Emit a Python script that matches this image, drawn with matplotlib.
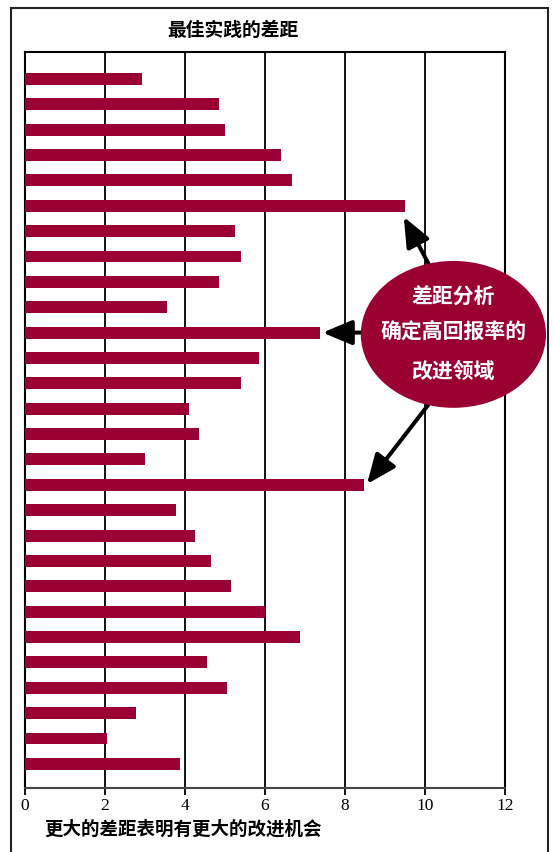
import matplotlib
matplotlib.use("Agg")
import matplotlib.pyplot as plt
from matplotlib.patches import Ellipse, Rectangle, FancyArrowPatch

# Data (top to bottom)
gaps = [2.93, 4.86, 4.99, 6.39, 6.67, 9.50, 5.24, 5.41, 4.86, 3.56,
        7.37, 5.84, 5.39, 4.11, 4.34, 3.01, 8.47, 3.78, 4.24, 4.66,
        5.14, 5.99, 6.87, 4.54, 5.06, 2.78, 2.06, 3.88]
x_ticks = [0, 2, 4, 6, 8, 10, 12]
title = "最佳实践的差距"
xlabel = "更大的差距表明有更大的改进机会"
bubble_lines = ["差距分析", "确定高回报率的", "改进领域"]
highlight = [5, 10, 16]  # indices of bars pointed to

bar_color = "#9B0032"
cjk = ["Noto Sans CJK SC", "DejaVu Sans"]

fig = plt.figure(figsize=(5.54, 8.52), dpi=100)
ax = fig.add_axes([25/554, 64/852, 480/554, 736/852])

n = len(gaps)
ys = [n - 1 - i for i in range(n)]
ax.barh(ys, gaps, height=0.47, color=bar_color, zorder=3)

ax.set_xlim(0, 12)
ax.set_ylim(-0.95, n - 1 + 1.06)
ax.set_xticks(x_ticks)
ax.set_xticklabels([str(t) for t in x_ticks], family="Liberation Serif", fontsize=12.5)
ax.set_yticks([])
ax.tick_params(axis="x", length=5, width=1.3, color="black", pad=2)
for x in x_ticks[1:-1]:
    ax.axvline(x, color="black", lw=1.3, zorder=1)
for s in ax.spines.values():
    s.set_linewidth(1.5)
    s.set_color("black")
ax.spines["bottom"].set_color("#444444")

# Title and x label
fig.text(233/554, 1 - 30/852, title, ha="center", va="center",
         family=cjk, fontsize=13.5, fontweight="bold")
fig.text(44/554, 1 - 829/852, xlabel, ha="left", va="center",
         family=cjk, fontsize=13.3, fontweight="bold")

# Outer frame
fig.patches.append(Rectangle((11/554, -0.01), 537/554, 1 - 8/852 + 0.01,
                             transform=fig.transFigure, fill=False,
                             edgecolor="#222222", lw=1.5))

# Bubble
cx, cy = 10.71, 16.93
ell = Ellipse((cx, cy), 4.63, 5.79, facecolor=bar_color, edgecolor="none",
              zorder=5, clip_on=False)
ax.add_patch(ell)
for txt, dy in zip(bubble_lines, [1.45, 0.12, -1.45]):
    ax.text(cx, cy + dy, txt, ha="center", va="center", color="white",
            family=cjk, fontsize=15, fontweight="bold", zorder=6)

# Arrows
starts = [(10.08, 19.74), (8.6, ys[highlight[1]]), (10.08, 14.15)]
offsets = [(-0.03, -0.44), (0.07, 0.0), (0.08, 0.03)]
for (sx, sy), idx, (dx, dy) in zip(starts, highlight, offsets):
    tip = (gaps[idx] + dx, ys[idx] + dy)
    arr = FancyArrowPatch((sx, sy), tip,
                          arrowstyle="-|>,head_length=1.0,head_width=0.42",
                          color="black", lw=2.9, zorder=4,
                          shrinkA=0, shrinkB=0, mutation_scale=18)
    ax.add_patch(arr)

fig.savefig("out.png", dpi=100)
